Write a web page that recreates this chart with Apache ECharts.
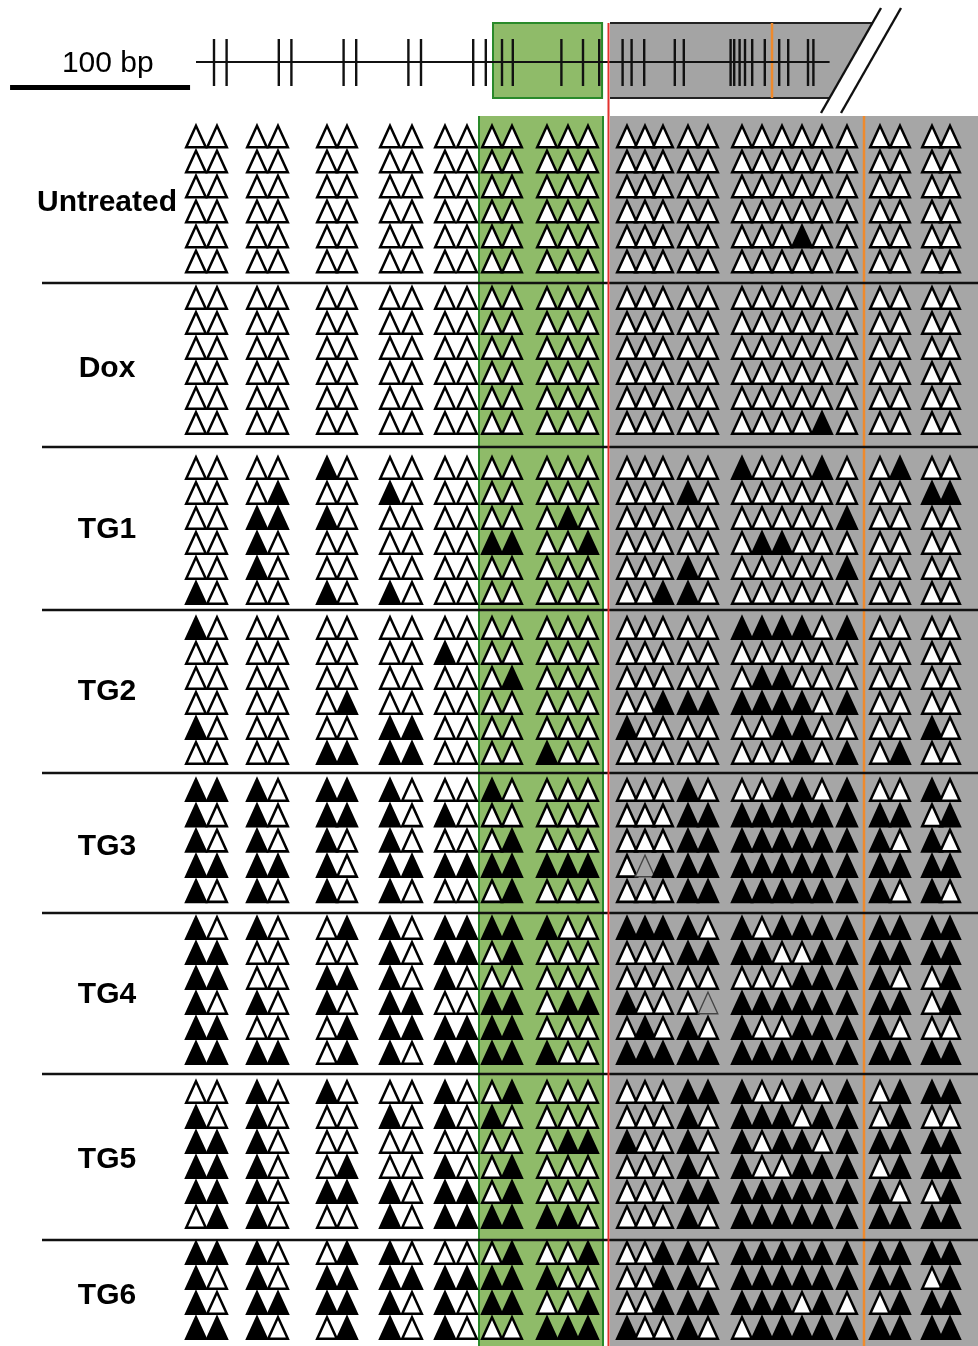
<!DOCTYPE html>
<html>
<head>
<meta charset="utf-8">
<script src="https://cdn.jsdelivr.net/npm/echarts@6/dist/echarts.min.js"></script>
<style>
  html, body { margin: 0; padding: 0; background: #fff; }
  #chart { width: 978px; height: 1346px; }
</style>
</head>
<body>
<div id="chart"></div>
<script>
// Methylation state per CpG site (columns) and clone (rows):
// 1 = methylated (filled), 0 = unmethylated (open), 2 = not determined.
// Spaces only group neighbouring sites for readability.
const groupNames = ['Untreated', 'Dox', 'TG1', 'TG2', 'TG3', 'TG4', 'TG5', 'TG6'];

const untreated = [
  '00 00 00 00 00 00 000 000 00 00000 0 00 00',
  '00 00 00 00 00 00 000 000 00 00000 0 00 00',
  '00 00 00 00 00 00 000 000 00 00000 0 00 00',
  '00 00 00 00 00 00 000 000 00 00000 0 00 00',
  '00 00 00 00 00 00 000 000 00 00010 0 00 00',
  '00 00 00 00 00 00 000 000 00 00000 0 00 00'
];
const dox = [
  '00 00 00 00 00 00 000 000 00 00000 0 00 00',
  '00 00 00 00 00 00 000 000 00 00000 0 00 00',
  '00 00 00 00 00 00 000 000 00 00000 0 00 00',
  '00 00 00 00 00 00 000 000 00 00000 0 00 00',
  '00 00 00 00 00 00 000 000 00 00000 0 00 00',
  '00 00 00 00 00 00 000 000 00 00001 0 00 00'
];
const tg1 = [
  '00 00 10 00 00 00 000 000 00 10001 0 01 00',
  '00 01 00 10 00 00 000 000 10 00000 0 00 11',
  '00 11 10 00 00 00 010 000 00 00000 1 00 00',
  '00 10 00 00 00 11 001 000 00 01100 0 00 00',
  '00 10 00 00 00 00 000 000 10 00000 1 00 00',
  '10 00 10 10 00 00 000 001 10 00000 0 00 00'
];
const tg2 = [
  '10 00 00 00 00 00 000 000 00 11110 1 00 00',
  '00 00 00 00 10 00 000 000 00 00000 0 00 00',
  '00 00 00 00 00 01 000 000 00 01100 0 00 00',
  '00 00 01 00 00 00 000 001 11 11110 1 00 00',
  '10 00 00 11 00 00 000 100 00 00110 0 00 10',
  '00 00 11 11 00 00 100 000 00 00010 1 01 00'
];
const tg3 = [
  '11 10 11 10 00 10 000 000 10 00110 1 00 10',
  '10 10 11 10 10 00 000 000 11 11111 1 11 01',
  '10 10 10 10 00 01 000 000 11 11111 1 10 10',
  '11 11 10 11 11 11 111 021 11 11111 1 11 11',
  '10 10 10 10 00 01 000 000 11 11111 1 10 10'
];
const tg4 = [
  '10 10 01 10 11 11 100 111 10 10111 1 11 11',
  '11 00 00 10 11 01 000 000 11 11001 1 11 11',
  '11 00 11 10 10 00 000 000 00 00011 1 10 01',
  '10 10 10 11 00 11 011 100 02 11111 1 11 01',
  '11 00 01 11 11 11 000 010 10 10011 1 10 00',
  '11 11 01 10 11 11 100 111 11 11111 1 11 11'
];
const tg5 = [
  '00 10 10 00 10 01 000 000 11 10010 1 01 11',
  '10 10 00 10 10 10 000 000 10 11101 1 01 00',
  '11 10 00 00 00 00 011 100 10 10110 1 11 11',
  '11 10 01 00 10 01 000 000 10 10011 1 01 11',
  '11 10 11 10 11 01 000 000 11 11111 1 10 01',
  '01 10 00 10 11 11 110 000 10 11111 1 11 11'
];
const tg6 = [
  '11 10 01 10 00 01 001 001 10 11111 1 11 11',
  '10 10 11 11 11 11 100 001 10 11111 1 11 01',
  '10 11 11 10 10 11 001 001 11 11101 0 01 11',
  '11 10 01 10 10 00 111 100 10 01111 1 11 11'
];
const groupRows = [untreated, dox, tg1, tg2, tg3, tg4, tg5, tg6];

// CpG site positions along the locus map, in bp from the start of the drawn line
const cpgSitesBp = [10, 17, 46, 53, 82, 89, 118, 125, 154, 161, 170, 176, 203, 215, 224,
  237, 242, 249, 266, 271, 297, 299, 302, 305, 309, 316, 324, 329, 340, 343];
// Locus features in bp
const mapLineEndBp = 352;
const greenRegionBp = [165, 225.6];
const tssBp = 230;
const orangeMarkBp = 320;
const geneTopRightBp = 375.6;
const scaleBarBp = 100;

// ---- layout (pixels) ----
const W = 978, H = 1346;
const PX_PER_BP = 1.8;
const MAP_LEFT = 196;
const colX = [196, 217, 257, 278, 327, 347, 390, 412, 445, 467, 492, 512, 547, 568, 588,
  627, 645, 663, 688, 708, 742, 762, 782, 802, 822, 847, 880, 900, 932, 950];
const groupFirstY = [136.5, 298, 468, 628, 790, 928, 1092, 1253];
const groupStep = [25, 25, 25, 25, 25.3, 25, 25, 25];
const labelY = [203, 369, 530, 692, 847, 995, 1160, 1296];
const labelX = 107;
const separatorsY = [283, 447, 610, 773, 913, 1074, 1240];

const GREEN = '#8fbb69';
const GREEN_EDGE = '#2a8a2a';
const GRAY = '#a6a6a6';
const RED = '#e2312c';
const ORANGE = '#ef8a2c';
const FONT = '"Liberation Sans", Arial, Helvetica, sans-serif';

function parseRow(s) { return s.replace(/\s+/g, '').split('').map(Number); }

function segSeries(segs, color, width, axis, z) {
  return {
    type: 'custom', xAxisIndex: axis, yAxisIndex: axis, silent: true, z: z,
    data: segs,
    renderItem: function (p, api) {
      const a = api.coord([api.value(0), api.value(1)]);
      const b = api.coord([api.value(2), api.value(3)]);
      return { type: 'line', shape: { x1: a[0], y1: a[1], x2: b[0], y2: b[1] },
        style: { stroke: color, lineWidth: width } };
    }
  };
}
function rectSeries(rects, fill, stroke, width, axis, z) {
  return {
    type: 'custom', xAxisIndex: axis, yAxisIndex: axis, silent: true, z: z,
    data: rects,
    renderItem: function (p, api) {
      const a = api.coord([api.value(0), api.value(1)]);
      const b = api.coord([api.value(2), api.value(3)]);
      return { type: 'rect',
        shape: { x: Math.min(a[0], b[0]), y: Math.min(a[1], b[1]),
                 width: Math.abs(b[0] - a[0]), height: Math.abs(b[1] - a[1]) },
        style: { fill: fill, stroke: stroke, lineWidth: width } };
    }
  };
}
function textSeries(items, font, axis, z) {
  return {
    type: 'custom', xAxisIndex: axis, yAxisIndex: axis, silent: true, z: z,
    data: items.map(function (t) { return { name: t[0], value: [t[1], t[2]] }; }),
    renderItem: function (p, api) {
      const c = api.coord([api.value(0), api.value(1)]);
      return { type: 'text', x: c[0], y: c[1],
        style: { text: items[p.dataIndex][0], fill: '#000', font: font,
                 align: 'center', verticalAlign: 'middle',
                 textAlign: 'center', textVerticalAlign: 'middle' } };
    }
  };
}

const series = [];

// Lower shaded columns: green region and gene body
series.push(rectSeries([[479, 116, 603, H]], GREEN, null, 0, 0, 1));
series.push(rectSeries([[610, 116, W, H]], GRAY, null, 0, 0, 1));
series.push(segSeries([[479, 116, 479, H], [603, 116, 603, H]], GREEN_EDGE, 2, 0, 2));
series.push(segSeries([[864, 116, 864, H]], ORANGE, 2.5, 0, 2));

// Clone group separators
series.push(segSeries(separatorsY.map(function (y) { return [42, y, W, y]; }), '#111', 2.5, 0, 3));

// Scale bar, drawn in bp on the map axis
series.push(segSeries([[-103.3, 87.5, -103.3 + scaleBarBp, 87.5]], '#000', 5, 1, 3));
series.push(textSeries([['100 bp', -49, 64]], 'normal 30px ' + FONT, 1, 3));

// Locus map
series.push({
  type: 'custom', xAxisIndex: 1, yAxisIndex: 1, silent: true, z: 2,
  data: [[0]],
  renderItem: function (p, api) {
    const pts = [[tssBp, 23], [geneTopRightBp, 23], [mapLineEndBp, 98], [tssBp, 98]]
      .map(function (q) { return api.coord(q); });
    return { type: 'polygon', shape: { points: pts }, style: { fill: '#a4a4a4' } };
  }
});
series.push(rectSeries([[greenRegionBp[0], 23, greenRegionBp[1], 98]], GREEN, GREEN_EDGE, 2, 1, 2));
series.push(segSeries([[tssBp, 23, geneTopRightBp, 23], [tssBp, 98, mapLineEndBp, 98]], '#222', 2, 1, 3));
series.push(segSeries([[orangeMarkBp, 23, orangeMarkBp, 98]], ORANGE, 2.5, 1, 3));
series.push(segSeries([[0, 62, mapLineEndBp, 62]], '#111', 2, 1, 4));
series.push(segSeries(cpgSitesBp.map(function (b) { return [b, 39, b, 86]; }), '#111', 2.4, 1, 4));
// Break marks
series.push(segSeries([
  [(821 - MAP_LEFT) / PX_PER_BP, 113, (881 - MAP_LEFT) / PX_PER_BP, 8],
  [(841 - MAP_LEFT) / PX_PER_BP, 113, (901 - MAP_LEFT) / PX_PER_BP, 8]
], '#111', 2.4, 1, 4));

// TSS line from map down through all clones
series.push(segSeries([[608.5, 23, 608.5, H]], RED, 2, 0, 4));

// Group labels
series.push(textSeries(groupNames.map(function (n, i) { return [n, labelX, labelY[i]]; }),
  'bold 30px ' + FONT, 0, 5));

// Clone rows: one triangle per CpG site
groupRows.forEach(function (rows, g) {
  const data = [];
  rows.forEach(function (row, r) {
    const y = groupFirstY[g] + r * groupStep[g];
    parseRow(row).forEach(function (v, c) {
      let style;
      if (v === 1) style = { color: '#000', borderColor: '#000', borderWidth: 2.6, opacity: 1 };
      else if (v === 2) style = { color: GRAY, borderColor: '#444', borderWidth: 1.4, opacity: 1 };
      else style = { color: '#fff', borderColor: '#000', borderWidth: 2.6, opacity: 1 };
      data.push({ value: [colX[c], y], itemStyle: style });
    });
  });
  series.push({
    name: groupNames[g], type: 'scatter', xAxisIndex: 0, yAxisIndex: 0,
    symbol: 'triangle', symbolSize: [19.5, 21.5], silent: true, z: 6,
    itemStyle: { opacity: 1 },
    data: data
  });
});

const chart = echarts.init(document.getElementById('chart'), null, { renderer: 'canvas' });
chart.setOption({
  animation: false,
  backgroundColor: '#fff',
  grid: [
    { left: 0, top: 0, width: W, height: H },
    { left: MAP_LEFT, top: 0, width: 434 * PX_PER_BP, height: H }
  ],
  xAxis: [
    { type: 'value', gridIndex: 0, min: 0, max: W, show: false },
    { type: 'value', gridIndex: 1, min: 0, max: 434, show: false }
  ],
  yAxis: [
    { type: 'value', gridIndex: 0, min: 0, max: H, inverse: true, show: false },
    { type: 'value', gridIndex: 1, min: 0, max: H, inverse: true, show: false }
  ],
  series: series
});
</script>
</body>
</html>
